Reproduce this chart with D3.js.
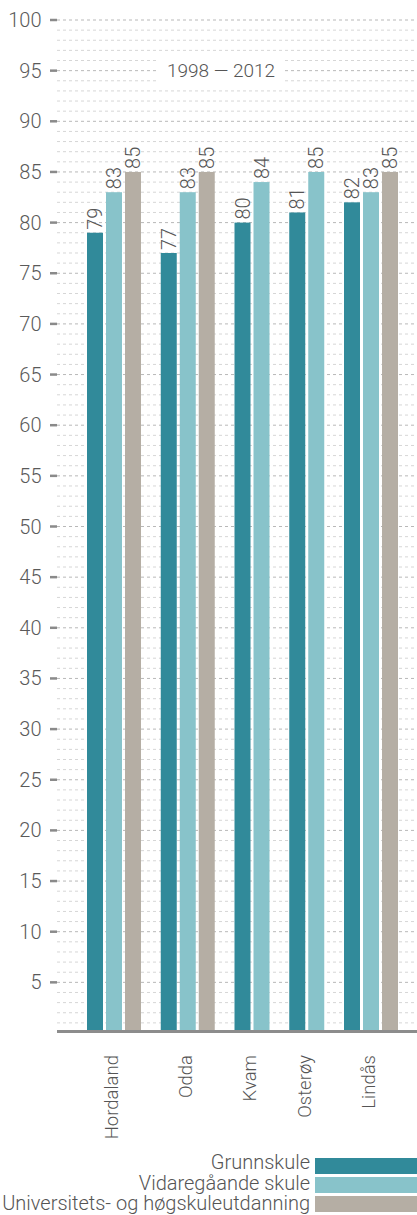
<!DOCTYPE html>
<html>
<head>
<meta charset="utf-8">
<script src="https://cdn.jsdelivr.net/npm/d3@7"></script>
<style>
  html, body { margin: 0; padding: 0; background: #fff; }
  svg { display: block; font-family: Roboto, "Noto Sans", sans-serif; font-weight: 300; }
</style>
</head>
<body>
<svg id="chart" width="417" height="1215"></svg>
<script>
// ---- data ----
const categories = ["Hordaland", "Odda", "Kvam", "Osterøy", "Lindås"];
const grunnskule = [79, 77, 80, 81, 82];
const vidaregaande = [83, 83, 84, 85, 83];
const hogskule = [85, 85, null, null, 85];
const seriesNames = ["Grunnskule", "Vidaregåande skule", "Universitets- og høgskuleutdanning"];
const seriesColors = ["#318a9a", "#88c3ca", "#b5aea4"];
const yTicks = [5, 10, 15, 20, 25, 30, 35, 40, 45, 50, 55, 60, 65, 70, 75, 80, 85, 90, 95, 100];
const title = "1998 — 2012";

const seriesValues = [grunnskule, vidaregaande, hogskule];

// ---- layout ----
const W = 417;
const svg = d3.select("#chart");
const plotLeft = 57, plotRight = W;
const y = d3.scaleLinear().domain([0, 100]).range([1033, 20]);

const BAR = 16, PAD = 3, GAP = 19.75;
const bars = [];
const groupSpan = [];
let cursor = 0;
categories.forEach((c, gi) => {
  const start = cursor;
  seriesValues.forEach((vals, si) => {
    const v = vals[gi];
    if (v == null) return;
    bars.push({ cat: c, gi, si, value: v, u0: cursor });
    cursor += BAR + PAD;
  });
  cursor -= PAD;
  groupSpan.push({ cat: c, u0: start, u1: cursor });
  cursor += GAP;
});
const totalUnits = cursor - GAP;
const x = d3.scaleLinear().domain([0, totalUnits]).range([87, 398]);

// ---- grid ----
const grid = svg.append("g");
const minor = d3.range(1, 101);
grid.selectAll("line.g").data(minor).join("line")
  .attr("x1", plotLeft).attr("x2", plotRight)
  .attr("y1", d => y(d)).attr("y2", d => y(d))
  .attr("stroke", d => d % 5 === 0 ? "#b8b8b8" : "#d6d6d6")
  .attr("stroke-width", 1)
  .attr("stroke-dasharray", "3,3");

const yAxis = svg.append("g");
yAxis.selectAll("line").data(yTicks).join("line")
  .attr("x1", 50).attr("x2", 57)
  .attr("y1", d => y(d)).attr("y2", d => y(d))
  .attr("stroke", "#8a8a8a").attr("stroke-width", 2.5);
yAxis.selectAll("text").data(yTicks).join("text")
  .attr("x", 41.5).attr("y", d => y(d)).attr("dy", "0.35em")
  .attr("text-anchor", "end")
  .attr("font-size", 20).attr("fill", "#5a5a5a")
  .text(d => d);

// title with white background
const tG = svg.append("g");
const tRect = tG.append("rect").attr("fill", "#fff");
const tText = tG.append("text")
  .attr("x", 221).attr("y", y(95)).attr("dy", "0.35em")
  .attr("text-anchor", "middle").attr("font-size", 19).attr("fill", "#555")
  .text(title);
const bb = tText.node().getBBox();
tRect.attr("x", bb.x - 8).attr("width", bb.width + 16)
  .attr("y", y(95) - 14.5).attr("height", 29);

// ---- bars ----
svg.append("g").selectAll("rect").data(bars).join("rect")
  .attr("x", d => x(d.u0)).attr("width", x(BAR) - x(0))
  .attr("y", d => y(d.value)).attr("height", d => y(0) - y(d.value))
  .attr("fill", d => seriesColors[d.si]);

svg.append("g").selectAll("text").data(bars).join("text")
  .attr("transform", d => `translate(${x(d.u0 + BAR / 2)},${y(d.value) - 3}) rotate(-90)`)
  .attr("dy", "0.35em")
  .attr("text-anchor", "start")
  .attr("font-size", 20).attr("fill", "#555")
  .text(d => d.value);

svg.append("line")
  .attr("x1", plotLeft).attr("x2", plotRight)
  .attr("y1", y(0) - 1.5).attr("y2", y(0) - 1.5)
  .attr("stroke", "#8c8c8c").attr("stroke-width", 3);

svg.append("g").selectAll("text").data(groupSpan).join("text")
  .attr("transform", d => `translate(${x((d.u0 + d.u1) / 2) - 2},1055) rotate(-90)`)
  .attr("dy", "0.35em")
  .attr("text-anchor", "end")
  .attr("font-size", 18.5).attr("fill", "#555")
  .text(d => d.cat);

// ---- legend ----
const lg = svg.append("g");
const ls = d3.scaleLinear().domain([0, 1]).range([1158, 1177]);
lg.selectAll("rect").data(seriesNames).join("rect")
  .attr("x", 315).attr("width", W - 315)
  .attr("y", (d, i) => ls(i)).attr("height", 16)
  .attr("fill", (d, i) => seriesColors[i]);
lg.selectAll("text").data(seriesNames).join("text")
  .attr("x", 310).attr("y", (d, i) => 1169 + i * 20.5)
  .attr("text-anchor", "end")
  .attr("font-size", 20).attr("fill", "#555")
  .text(d => d);
</script>
</body>
</html>
